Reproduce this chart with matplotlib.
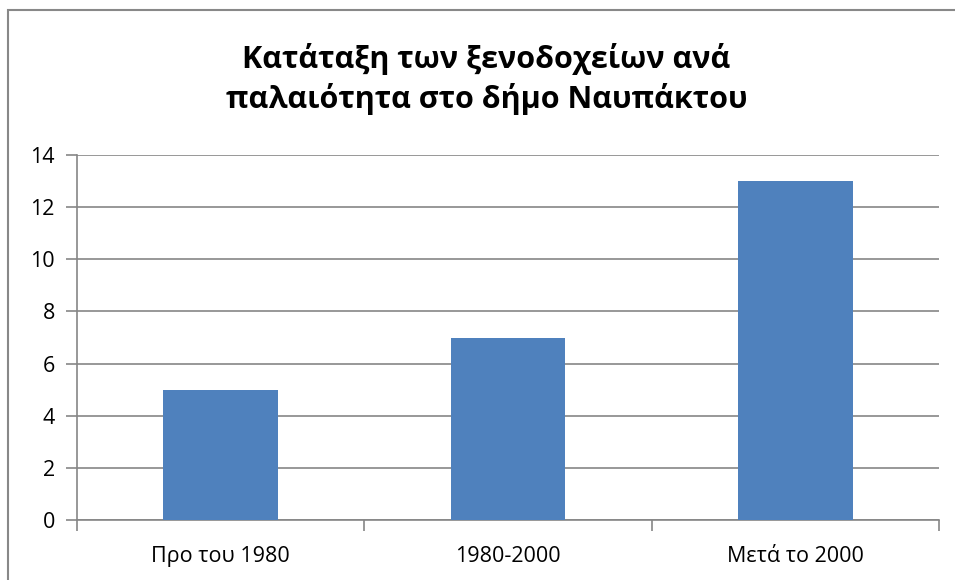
import matplotlib.pyplot as plt
from matplotlib.patches import Rectangle

categories = ['Προ του 1980', '1980-2000', 'Μετά το 2000']
values = [5, 7, 13]
yticks = [0, 2, 4, 6, 8, 10, 12, 14]
title = 'Κατάταξη των ξενοδοχείων ανά\nπαλαιότητα στο δήμο Ναυπάκτου'

plt.rcParams['font.family'] = ['Open Sans', 'DejaVu Sans']

fig = plt.figure(figsize=(9.55, 5.8), dpi=100)
ax = fig.add_axes([77 / 955, 60 / 580, 862 / 955, 365 / 580])

# chart area border
fig.add_artist(Rectangle((8 / 955, -0.1), 1.0, 1.1 - 10 / 580, transform=fig.transFigure,
                         fill=False, edgecolor='#888888', linewidth=1.5))

x = range(len(categories))
ax.bar(x, values, width=0.4, color='#4F81BD', zorder=3)

ax.set_xlim(-0.5, len(categories) - 0.5)
ax.set_ylim(0, 14)
ax.set_yticks(yticks)
ax.yaxis.grid(True, color='#868686', linewidth=1.2)
ax.set_axisbelow(True)

ax.set_xticks([-0.5, 0.5, 1.5, 2.5])
ax.set_xticklabels([])
ax.set_xticks(list(x), minor=True)
ax.set_xticklabels(categories, minor=True)
ax.tick_params(axis='x', which='minor', length=0, labelsize=15.5, pad=19)
ax.tick_params(axis='x', which='major', length=8, width=1.2, color='#868686', direction='out')
ax.tick_params(axis='y', length=8, width=1.2, color='#868686', labelsize=15.5, pad=8)

for s in ['top', 'right']:
    ax.spines[s].set_visible(False)
for s in ['left', 'bottom']:
    ax.spines[s].set_color('#868686')
    ax.spines[s].set_linewidth(1.2)

fig.text(0.5 + 9 / 955, 1 - 79 / 580, title, ha='center', va='center', fontsize=22,
         fontweight='bold', linespacing=1.35)

fig.savefig('out.png', dpi=100)
